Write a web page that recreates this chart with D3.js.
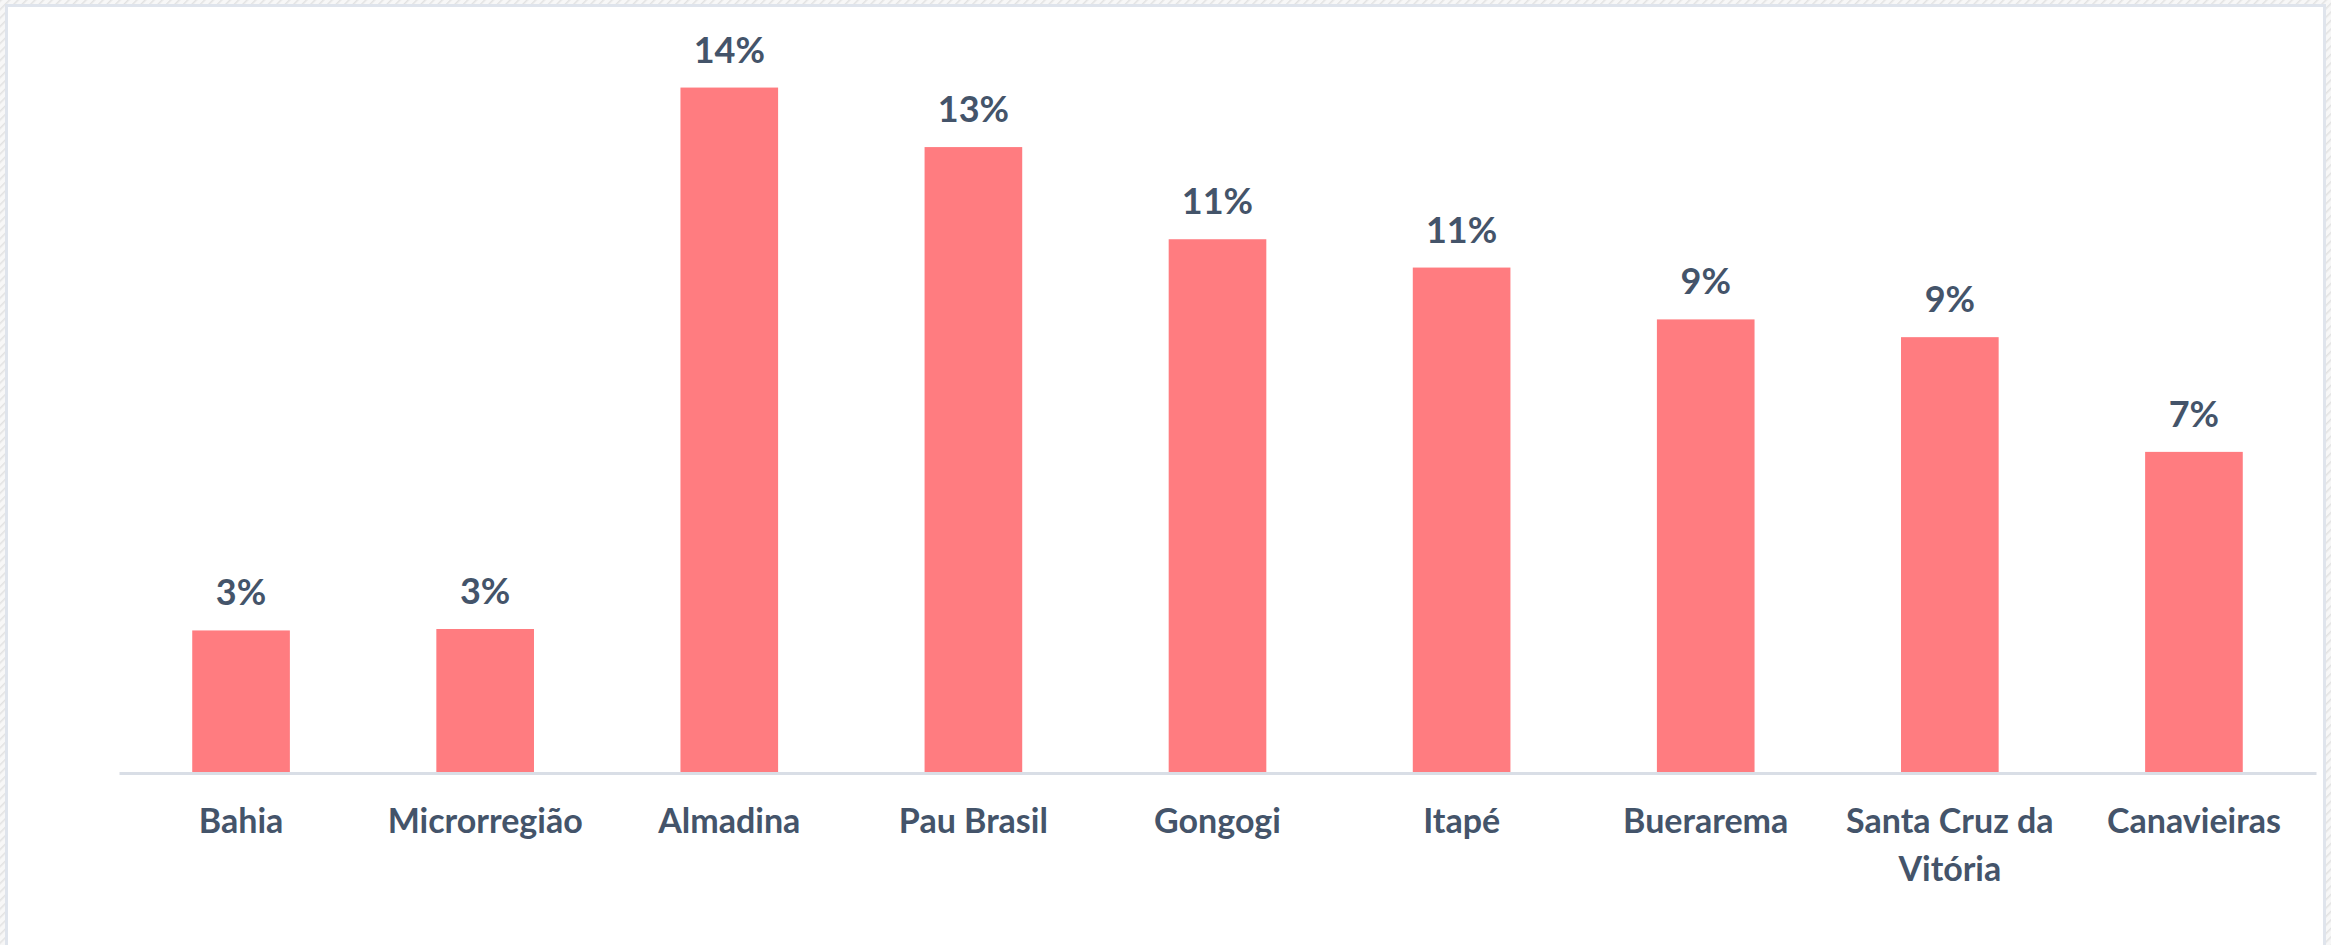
<!DOCTYPE html>
<meta charset="utf-8">
<script src="https://d3js.org/d3.v7.min.js"></script>
<style>
  body { margin: 0; background: #fff; }
  svg { display: block; }
</style>
<body>
<div id="canvas"></div>
<script>
    // dados do gráfico
    var categories = ["Bahia", "Microrregião", "Almadina", "Pau Brasil", "Gongogi", "Itapé", "Buerarema", "Santa Cruz da Vitória", "Canavieiras"];
    var values = [2.97, 3.0, 14.28, 13.04, 11.12, 10.53, 9.45, 9.08, 6.69];

    var width = 2331;
    var height = 945;
    var textColor = "#44546a";
    var barColor = "#ff7c80";

    var svg = d3.select("#canvas")
        .append("svg")
        .attr("width", width)
        .attr("height", height);

    // moldura hachurada em volta do gráfico
    var defs = svg.append("defs");
    var pat = defs.append("pattern")
        .attr("id", "hatch")
        .attr("patternUnits", "userSpaceOnUse")
        .attr("width", 6).attr("height", 6)
        .attr("patternTransform", "rotate(45)");
    pat.append("rect").attr("width", 6).attr("height", 6).attr("fill", "#f7f7f7");
    pat.append("line").attr("x1", 0).attr("y1", 0).attr("x2", 0).attr("y2", 6)
        .attr("stroke", "#e2e2e2").attr("stroke-width", 3);

    svg.append("rect").attr("width", width).attr("height", height).attr("fill", "url(#hatch)");
    svg.append("rect")
        .attr("x", 6.5).attr("y", 5.5)
        .attr("width", 2318).attr("height", height)
        .attr("fill", "#fff")
        .attr("stroke", "#dfe4ec").attr("stroke-width", 3);

    var margin = {top: 35, left: 119, right: 15, bottom: 172};
    var baseY = height - margin.bottom;   // 773

    // escala X (categorias)
    var x = d3.scaleBand()
        .domain(categories)
        .range([margin.left, width - margin.right])
        .paddingInner(0.6)
        .paddingOuter(0.3);

    // escala Y (valores)
    var y = d3.scaleLinear()
        .domain([0, 15.5])
        .range([baseY, baseY - 15.5 * 48]);

    // barras
    svg.append("g")
        .selectAll("rect")
        .data(values)
        .enter()
        .append("rect")
        .attr("x", function(d, i){ return x(categories[i]); })
        .attr("y", function(d){ return y(d); })
        .attr("width", x.bandwidth())
        .attr("height", function(d){ return y(0) - y(d); })
        .attr("fill", barColor);

    // rótulos dos valores
    svg.append("g")
        .selectAll("text")
        .data(values)
        .enter()
        .append("text")
        .attr("x", function(d, i){ return x(categories[i]) + x.bandwidth() / 2; })
        .attr("y", function(d){ return y(d) - 25; })
        .attr("text-anchor", "middle")
        .style("font-family", "Lato, 'Open Sans', sans-serif")
        .style("font-weight", "bold")
        .style("font-size", "36px")
        .style("fill", textColor)
        .text(function(d){ return Math.round(d) + "%"; });

    // eixo X
    var xAxis = d3.axisBottom(x).tickSize(0).tickPadding(0);
    var gx = svg.append("g")
        .attr("transform", "translate(0," + baseY + ")")
        .call(xAxis);
    gx.select(".domain")
        .attr("stroke", "#d9dee6")
        .attr("stroke-width", 3);
    gx.selectAll(".tick text")
        .style("font-family", "Lato, 'Open Sans', sans-serif")
        .style("font-weight", "bold")
        .style("font-size", "34px")
        .style("fill", textColor)
        .attr("dy", null)
        .attr("y", 60)
        .call(wrap, x.step() - 10);

    // quebra os rótulos longos em várias linhas
    function wrap(texts, maxWidth) {
        texts.each(function() {
            var text = d3.select(this);
            var words = text.text().split(/\s+/);
            var line = [];
            var lineNo = 0;
            var yPos = text.attr("y");
            text.text(null);
            var tspan = text.append("tspan").attr("x", 0).attr("y", yPos);
            words.forEach(function(w) {
                line.push(w);
                tspan.text(line.join(" "));
                if (tspan.node().getComputedTextLength() > maxWidth && line.length > 1) {
                    line.pop();
                    tspan.text(line.join(" "));
                    line = [w];
                    lineNo++;
                    tspan = text.append("tspan").attr("x", 0).attr("y", +yPos + lineNo * 48).text(w);
                }
            });
        });
    }
</script>
</body>
